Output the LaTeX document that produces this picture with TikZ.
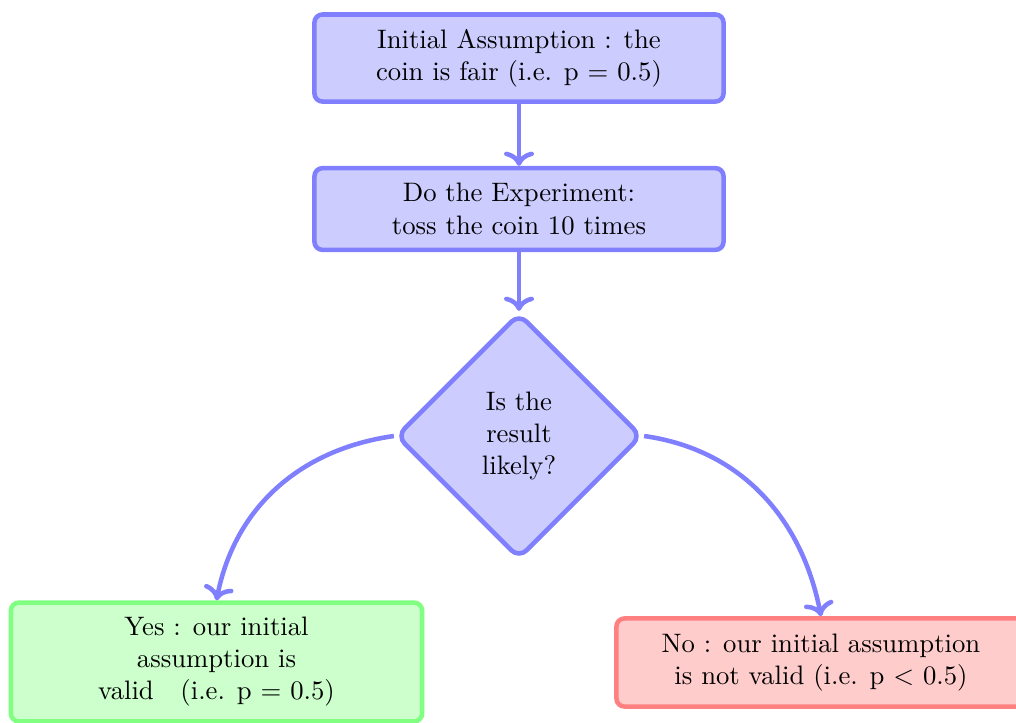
\documentclass[tikz,border=0pt]{standalone}
\usetikzlibrary{shapes.geometric,arrows.meta}
\begin{document}
\begin{tikzpicture}[x=0.3745pt,y=-0.3745pt,
  base/.style={line width=1.7pt, rounded corners=3pt, align=center, inner sep=0pt},
  bluebox/.style={base, draw=blue!50, fill=blue!20, minimum width=153.2pt},
  greenbox/.style={base, draw=green!50, fill=green!20, minimum width=154pt, minimum height=44.5pt},
  redbox/.style={base, draw=red!50, fill=red!20, minimum width=153.2pt, minimum height=33pt},
  decision/.style={diamond, aspect=1, line width=1.7pt, draw=blue!50, fill=blue!20, rounded corners=4pt, align=center, inner sep=0pt, minimum width=92pt, minimum height=92pt},
  conn/.style={->, draw=blue!50, line width=1.7pt}]
\useasboundingbox (0,0) rectangle (1016,722);
\node[bluebox, minimum height=32.6pt] (a) at (519,58) {Initial Assumption : the\\coin is fair (i.e. p $=$ 0.5)};
\node[bluebox, minimum height=30.6pt] (b) at (519,209) {Do the Experiment:\\toss the coin 10 times};
\node[decision] (d) at (519,436) {Is the\\result\\likely?};
\node[greenbox] (g) at (216.5,662) {Yes : our initial\\assumption is\\valid \ \ (i.e. p $=$ 0.5)};
\node[redbox] (r) at (821,662.5) {No : our initial assumption\\is not valid (i.e. p $<$ 0.5)};
\draw[conn] (a) -- (b);
\draw[conn] (b) -- (d);
\draw[conn] (d.west) to[out=188,in=79] (g.north);
\draw[conn] (d.east) to[out=-8,in=101] (r.north);
\end{tikzpicture}
\end{document}
